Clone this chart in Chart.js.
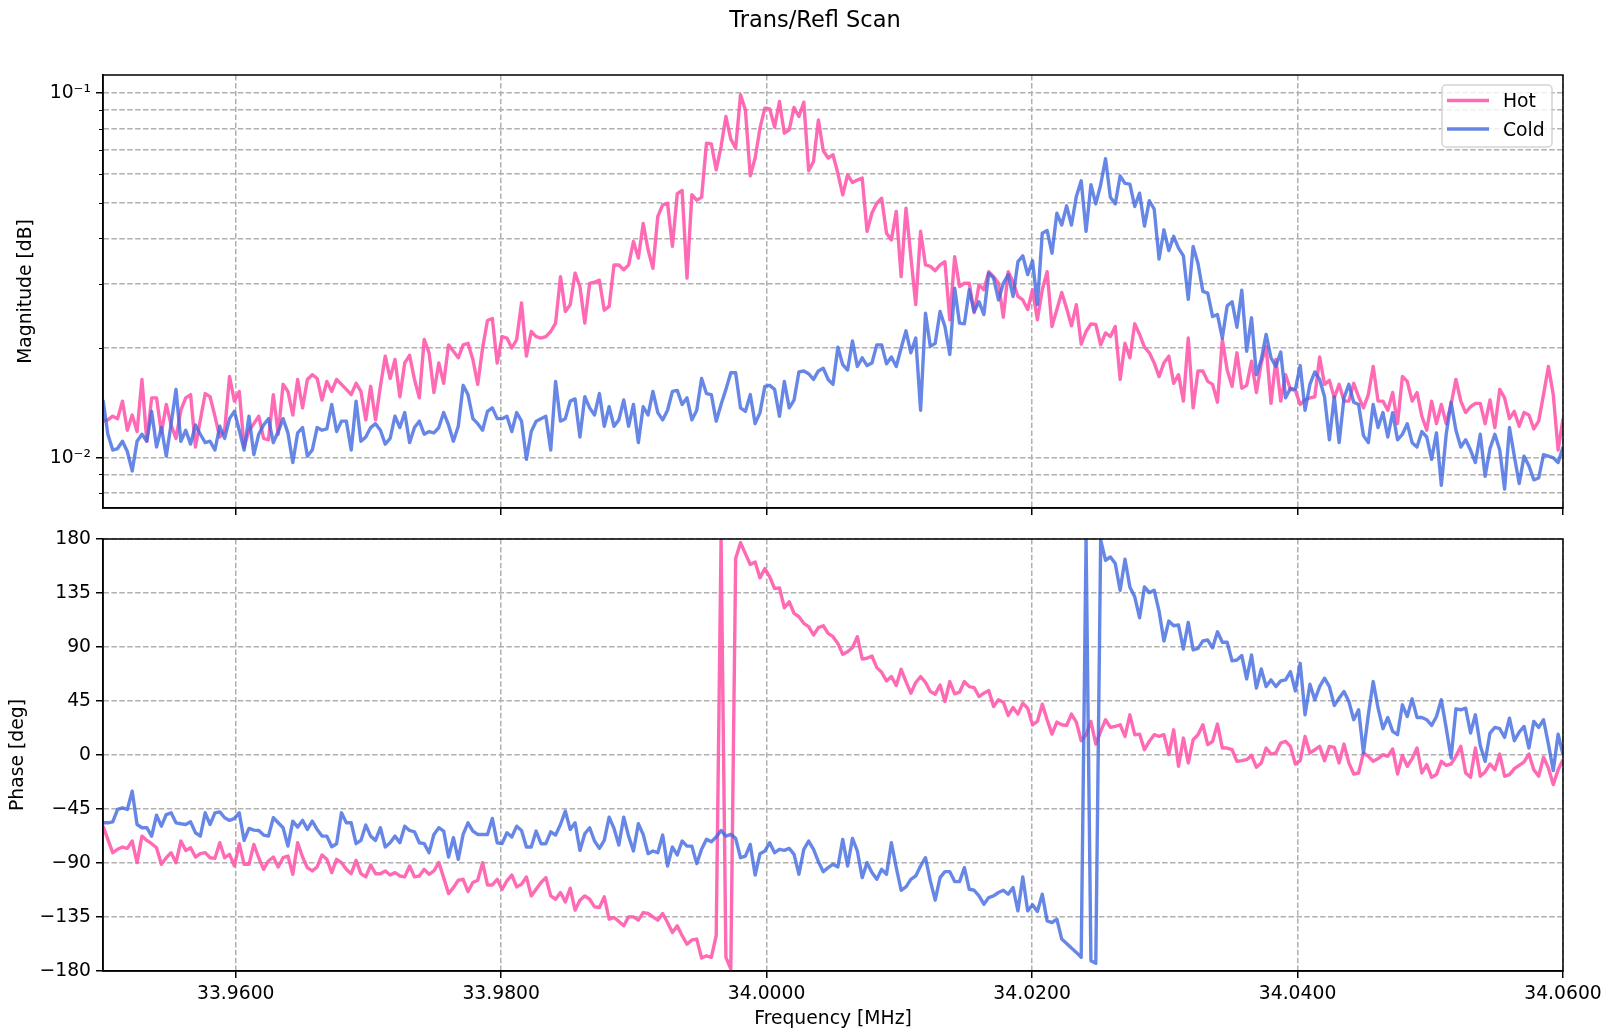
<!DOCTYPE html>
<html>
<head>
<meta charset="utf-8">
<title>Trans/Refl Scan</title>
<script src="https://cdn.jsdelivr.net/npm/chart.js@4.4.1/dist/chart.umd.min.js"></script>
<style>
  html, body { margin: 0; padding: 0; background: #fff; }
  #figure { position: relative; width: 1610px; height: 1032px; }
  #figure canvas { position: absolute; left: 0; }
</style>
</head>
<body>
<div id="figure">
  <canvas id="magChart" width="1610" height="530" style="top:0px"></canvas>
  <canvas id="phaseChart" width="1610" height="502" style="top:530px"></canvas>
</div>
<script>
// sweep range, MHz (points are evenly spaced across it)
const F_START = 33.95;
const F_STOP = 34.06;

const hotMag = [
  0.0126, 0.0127, 0.0130, 0.0128, 0.0143, 0.0119, 0.0131, 0.0118, 0.0164, 0.0111,
  0.0146, 0.0146, 0.0117, 0.0140, 0.0123, 0.0113, 0.0135, 0.0146, 0.0149, 0.0107,
  0.0127, 0.0150, 0.0147, 0.0130, 0.0114, 0.0119, 0.0167, 0.0143, 0.0152, 0.0107,
  0.0119, 0.0124, 0.0130, 0.0113, 0.0112, 0.0149, 0.0116, 0.0159, 0.0152, 0.0131,
  0.0164, 0.0137, 0.0164, 0.0169, 0.0165, 0.0144, 0.0162, 0.0152, 0.0164, 0.0159,
  0.0154, 0.0149, 0.0160, 0.0152, 0.0127, 0.0157, 0.0127, 0.0157, 0.0190, 0.0165,
  0.0186, 0.0147, 0.0182, 0.0191, 0.0164, 0.0146, 0.0211, 0.0194, 0.0151, 0.0182,
  0.0160, 0.0204, 0.0196, 0.0188, 0.0204,
  0.0206, 0.0186, 0.0159, 0.0200, 0.0238, 0.0241, 0.0182, 0.0215, 0.0213, 0.0200,
  0.0211, 0.0266, 0.0190, 0.0222, 0.0215, 0.0213, 0.0215, 0.0222, 0.0234, 0.0314,
  0.0252, 0.0263, 0.0321, 0.0295, 0.0234, 0.0301, 0.0303, 0.0307, 0.0254, 0.0260,
  0.0338, 0.0338, 0.0328, 0.0338, 0.0392, 0.0353, 0.0439, 0.0372, 0.0331, 0.0459,
  0.0494, 0.0499, 0.0380, 0.0530, 0.0541, 0.0311, 0.0527, 0.0509, 0.0518, 0.0729,
  0.0726, 0.0616, 0.0714, 0.0863, 0.0748, 0.0707, 0.0990, 0.0900, 0.0594, 0.0664,
  0.0802, 0.0910, 0.0906, 0.0807, 0.0949, 0.0777, 0.0793, 0.0914, 0.0863, 0.0945,
  0.0613, 0.0650, 0.0845, 0.0695, 0.0664,
  0.0678, 0.0603, 0.0526, 0.0597, 0.0569, 0.0578, 0.0585, 0.0418, 0.0469, 0.0499,
  0.0515, 0.0413, 0.0396, 0.0474, 0.0314, 0.0484, 0.0356, 0.0263, 0.0418, 0.0338,
  0.0335, 0.0326, 0.0338, 0.0345, 0.0239, 0.0356, 0.0295, 0.0301, 0.0301, 0.0250,
  0.0298, 0.0289, 0.0324, 0.0314, 0.0301, 0.0243, 0.0324, 0.0304, 0.0277, 0.0271,
  0.0255, 0.0289, 0.0239, 0.0289, 0.0324, 0.0229, 0.0255, 0.0284, 0.0257, 0.0230,
  0.0263, 0.0205, 0.0222, 0.0233, 0.0232, 0.0204, 0.0220, 0.0215, 0.0229, 0.0164,
  0.0206, 0.0188, 0.0233, 0.0218, 0.0201, 0.0194, 0.0182, 0.0167, 0.0182, 0.0190,
  0.0160, 0.0169, 0.0143, 0.0213, 0.0137,
  0.0173, 0.0173, 0.0162, 0.0159, 0.0142, 0.0211, 0.0174, 0.0157, 0.0194, 0.0155,
  0.0158, 0.0184, 0.0151, 0.0182, 0.0202, 0.0141, 0.0186, 0.0143, 0.0169, 0.0154,
  0.0153, 0.0140, 0.0144, 0.0146, 0.0147, 0.0189, 0.0159, 0.0163, 0.0146, 0.0159,
  0.0143, 0.0143, 0.0160, 0.0147, 0.0137, 0.0149, 0.0178, 0.0143, 0.0143, 0.0135,
  0.0151, 0.0124, 0.0167, 0.0162, 0.0143, 0.0151, 0.0130, 0.0119, 0.0143, 0.0124,
  0.0140, 0.0124, 0.0140, 0.0164, 0.0143, 0.0133, 0.0138, 0.0141, 0.0141, 0.0124,
  0.0144, 0.0121, 0.0154, 0.0146, 0.0128, 0.0134, 0.0122, 0.0133, 0.0131, 0.0120,
  0.0126, 0.0149, 0.0178, 0.0149, 0.0105, 0.0128
];

const coldMag = [
  0.0144, 0.0116, 0.0105, 0.0106, 0.0111, 0.0104, 0.0092, 0.0111, 0.0116, 0.0111,
  0.0134, 0.0107, 0.0121, 0.0101, 0.0124, 0.0154, 0.0111, 0.0119, 0.0109, 0.0123,
  0.0116, 0.0110, 0.0111, 0.0105, 0.0122, 0.0113, 0.0128, 0.0134, 0.0119, 0.0105,
  0.0130, 0.0102, 0.0116, 0.0123, 0.0128, 0.0110, 0.0118, 0.0128, 0.0117, 0.0097,
  0.0117, 0.0121, 0.0101, 0.0105, 0.0121, 0.0119, 0.0120, 0.0140, 0.0118, 0.0126,
  0.0126, 0.0105, 0.0143, 0.0111, 0.0114, 0.0121, 0.0124, 0.0119, 0.0109, 0.0113,
  0.0130, 0.0121, 0.0133, 0.0110, 0.0121, 0.0126, 0.0116, 0.0118, 0.0117, 0.0121,
  0.0133, 0.0123, 0.0111, 0.0122, 0.0158,
  0.0149, 0.0128, 0.0124, 0.0119, 0.0134, 0.0137, 0.0128, 0.0128, 0.0130, 0.0118,
  0.0133, 0.0126, 0.0099, 0.0118, 0.0126, 0.0128, 0.0130, 0.0105, 0.0162, 0.0126,
  0.0128, 0.0143, 0.0145, 0.0114, 0.0147, 0.0137, 0.0131, 0.0150, 0.0122, 0.0138,
  0.0122, 0.0127, 0.0144, 0.0122, 0.0140, 0.0110, 0.0138, 0.0131, 0.0152, 0.0133,
  0.0127, 0.0135, 0.0152, 0.0153, 0.0140, 0.0146, 0.0127, 0.0135, 0.0165, 0.0150,
  0.0149, 0.0126, 0.0140, 0.0154, 0.0171, 0.0171, 0.0137, 0.0134, 0.0149, 0.0124,
  0.0133, 0.0157, 0.0158, 0.0154, 0.0130, 0.0162, 0.0137, 0.0144, 0.0172, 0.0173,
  0.0170, 0.0164, 0.0173, 0.0176, 0.0164,
  0.0159, 0.0201, 0.0180, 0.0174, 0.0209, 0.0178, 0.0188, 0.0179, 0.0182, 0.0204,
  0.0204, 0.0181, 0.0189, 0.0178, 0.0200, 0.0223, 0.0194, 0.0213, 0.0135, 0.0249,
  0.0202, 0.0206, 0.0252, 0.0229, 0.0192, 0.0292, 0.0234, 0.0233, 0.0289, 0.0252,
  0.0268, 0.0247, 0.0321, 0.0311, 0.0271, 0.0301, 0.0318, 0.0277, 0.0345, 0.0358,
  0.0318, 0.0347, 0.0263, 0.0413, 0.0420, 0.0364, 0.0469, 0.0435, 0.0491, 0.0435,
  0.0521, 0.0575, 0.0418, 0.0561, 0.0497, 0.0561, 0.0661, 0.0518, 0.0497, 0.0593,
  0.0566, 0.0563, 0.0489, 0.0532, 0.0432, 0.0507, 0.0481, 0.0351, 0.0422, 0.0370,
  0.0405, 0.0376, 0.0358, 0.0272, 0.0380,
  0.0341, 0.0286, 0.0283, 0.0244, 0.0247, 0.0213, 0.0261, 0.0268, 0.0228, 0.0288,
  0.0196, 0.0242, 0.0169, 0.0186, 0.0218, 0.0188, 0.0178, 0.0195, 0.0146, 0.0155,
  0.0154, 0.0179, 0.0135, 0.0159, 0.0172, 0.0164, 0.0147, 0.0112, 0.0147, 0.0110,
  0.0146, 0.0159, 0.0142, 0.0140, 0.0115, 0.0110, 0.0140, 0.0121, 0.0133, 0.0114,
  0.0133, 0.0112, 0.0116, 0.0124, 0.0110, 0.0107, 0.0118, 0.0114, 0.0099, 0.0117,
  0.0084, 0.0116, 0.0142, 0.0119, 0.0107, 0.0112, 0.0105, 0.0097, 0.0116, 0.0089,
  0.0106, 0.0116, 0.0105, 0.0082, 0.0121, 0.0101, 0.0085, 0.0101, 0.0095, 0.0087,
  0.0088, 0.0102, 0.0101, 0.0100, 0.0097, 0.0107
];

const hotPhase = [
  -59.3, -70.3, -81.4, -78.6, -76.7, -77.8, -71.7, -89.7, -67.6, -71.2,
  -73.9, -77.3, -91.1, -85.6, -81.4, -89.7, -71.7, -79.5, -77.3, -85.0,
  -82.2, -81.4, -85.6, -86.1, -73.1, -85.6, -82.8, -92.5, -73.9, -91.1,
  -91.1, -74.5, -85.6, -95.3, -88.3, -85.0, -93.3, -85.6, -84.2, -99.4,
  -73.1, -85.0, -93.9, -96.6, -93.3, -83.3, -86.9, -98.0, -86.9, -89.7,
  -95.3, -98.9, -87.8, -98.9, -101.6, -91.7, -98.9, -98.9, -96.6, -100.0,
  -98.0, -100.8, -101.6, -92.5, -101.6, -100.8, -95.3, -99.4, -96.6, -89.7,
  -102.2, -115.5, -110.5, -104.4, -103.6,
  -113.8, -106.3, -104.4, -89.7, -108.3, -108.3, -103.6, -111.9, -104.9, -100.0,
  -109.9, -107.7, -101.6, -117.4, -111.9, -106.3, -102.2, -117.4, -120.2, -114.6,
  -122.4, -111.0, -129.3, -121.0, -117.4, -120.2, -126.5, -127.1, -118.2, -136.8,
  -135.4, -138.7, -142.3, -134.9, -134.9, -137.6, -131.3, -132.1, -134.9, -137.6,
  -132.1, -139.6, -147.9, -142.3, -150.6, -157.6, -154.2, -153.4, -169.2, -167.3,
  -168.6, -150.6, 179.0, -168.6, -178.3, 163.7, 176.9, 167.8, 158.7, 160.9,
  147.6, 155.3, 148.4, 138.7, 139.3, 122.7, 127.7, 118.0, 115.2, 109.7,
  106.9, 100.0, 106.1, 107.7, 101.3,
  98.6, 93.0, 83.9, 86.1, 89.4, 98.6, 80.0, 80.6, 82.5, 72.8,
  68.9, 61.7, 65.3, 57.9, 71.4, 61.2, 51.5, 60.4, 65.3, 60.6,
  52.9, 50.7, 58.4, 44.6, 61.2, 51.0, 52.3, 61.2, 57.0, 56.2,
  48.7, 51.5, 53.7, 40.4, 46.0, 44.0, 33.0, 39.6, 34.1, 43.2,
  39.0, 25.2, 28.0, 42.4, 29.4, 17.4, 27.4, 25.2, 24.6, 34.1,
  27.4, 11.9, 16.9, 28.0, 9.1, 19.7, 29.4, 23.0, 23.8, 25.2,
  15.5, 33.5, 16.9, 17.4, 4.4, 11.4, 16.9, 15.5, 16.9, 0.3,
  21.0, -9.4, 14.1, -6.6, 12.7,
  16.9, 25.2, 8.6, 11.4, 25.8, 5.8, 5.8, 4.4, -5.3, -4.7,
  -3.9, -0.3, -10.2, -6.6, 5.8, 0.8, 1.7, 10.0, 11.4, 7.2,
  -7.5, -4.7, 15.5, 1.7, 4.4, 7.2, -4.7, 7.2, 6.4, -6.6,
  9.1, -6.6, -15.8, -15.0, 1.7, -1.1, -5.3, -3.0, 0.3, -1.1,
  5.0, -15.8, -0.3, -9.4, -3.0, 5.8, -15.0, -8.0, -18.6, -16.3,
  -5.3, -8.6, -7.5, -1.1, 7.2, -15.0, -18.6, 5.8, -17.7, -14.1,
  -7.5, -12.2, 0.8, -17.7, -16.3, -11.4, -8.6, -5.8, 0.8, -12.2,
  -17.7, -1.9, -10.8, -24.6, -12.2, -3.9
];

const coldPhase = [
  -56.5, -56.5, -55.7, -45.4, -44.0, -45.4, -30.2, -57.9, -60.6, -60.6,
  -67.6, -50.1, -59.3, -49.6, -48.2, -56.5, -57.3, -57.9, -55.7, -64.8,
  -67.6, -48.2, -57.9, -48.2, -47.4, -52.3, -54.5, -52.9, -48.2, -71.2,
  -61.2, -62.6, -62.9, -66.7, -67.6, -52.3, -56.5, -60.6, -75.9, -55.1,
  -60.1, -54.5, -62.0, -55.1, -62.0, -67.6, -67.6, -76.4, -73.9, -48.2,
  -56.5, -56.5, -73.9, -71.2, -58.4, -67.6, -71.2, -60.6, -76.7, -73.1,
  -67.6, -73.1, -59.3, -62.9, -64.0, -73.1, -73.9, -81.4, -66.2, -60.6,
  -63.4, -85.0, -68.9, -86.9, -66.2,
  -56.5, -63.4, -66.2, -66.2, -66.2, -52.9, -73.1, -73.9, -64.8, -68.4,
  -59.3, -62.9, -76.7, -76.7, -63.4, -73.9, -73.9, -64.0, -66.7, -57.9,
  -46.8, -62.0, -56.5, -79.5, -65.6, -60.6, -71.7, -77.8, -71.2, -51.8,
  -61.2, -75.0, -51.8, -67.6, -80.0, -57.3, -66.2, -82.2, -80.0, -81.4,
  -66.7, -92.5, -76.7, -83.3, -71.7, -75.9, -75.9, -90.5, -78.6, -70.3,
  -72.3, -68.4, -62.9, -67.6, -66.2, -69.5, -85.6, -84.2, -74.5, -100.0,
  -82.2, -80.0, -73.1, -81.4, -78.6, -79.5, -77.8, -82.8, -99.4, -78.6,
  -71.7, -78.6, -88.9, -97.2, -93.9,
  -91.1, -93.3, -70.3, -92.5, -69.5, -80.0, -102.2, -89.7, -98.0, -103.6,
  -95.3, -99.4, -73.1, -93.9, -112.7, -109.9, -103.6, -100.8, -92.5, -85.6,
  -104.9, -121.0, -102.2, -97.2, -97.2, -105.5, -105.5, -93.9, -111.9, -112.7,
  -117.4, -124.3, -118.8, -117.4, -114.6, -112.7, -116.0, -110.5, -129.9, -101.6,
  -129.9, -124.9, -130.4, -116.0, -138.2, -139.6, -136.8, -153.4, -157.0, -160.9,
  -164.5, -168.6, 179.0, -171.4, -173.6, 179.0, 162.3, 165.0, 159.5, 137.3,
  163.1, 140.1, 131.8, 114.4, 140.1, 135.4, 137.3, 119.9, 95.0, 111.6,
  107.7, 108.3, 88.3, 110.5, 87.5,
  88.9, 95.0, 95.8, 89.4, 102.7, 93.9, 93.9, 78.4, 79.2, 82.8,
  63.4, 83.3, 55.7, 71.7, 57.0, 62.6, 57.0, 61.7, 62.6, 69.5,
  53.4, 76.4, 33.5, 59.0, 46.0, 57.0, 64.0, 57.0, 41.3, 47.4,
  52.9, 44.6, 29.4, 37.7, 1.7, 33.5, 61.2, 39.0, 21.9, 31.3,
  19.7, 16.9, 41.8, 32.1, 46.8, 31.3, 31.3, 29.4, 24.6, 32.1,
  46.0, 22.4, -2.5, 38.5, 37.7, 39.0, 18.3, 33.5, 8.0, -5.3,
  18.3, 23.0, 21.9, 14.7, 30.7, 11.9, 19.1, 23.8, 5.8, 28.0,
  23.0, 29.4, 9.1, -13.0, 17.4, 0.3
];

// axis ticks
const freqTicks = [33.96, 33.98, 34.00, 34.02, 34.04, 34.06];
const magTicks = [0.008, 0.009, 0.01, 0.02, 0.03, 0.04, 0.05, 0.06, 0.07, 0.08, 0.09, 0.1];
const magMajor = [0.01, 0.1];
const magLabels = ['10\u207B\u00B2', '10\u207B\u00B9'];
const phaseTicks = [-180, -135, -90, -45, 0, 45, 90, 135, 180];

const MAG_MIN = 0.00728;
const MAG_MAX = 0.1122;

const GRID_COLOR = '#b0b0b0';
const GRID_DASH = [5.5, 2.4];
const HOT_COLOR = 'rgba(255, 90, 172, 0.9)';
const COLD_COLOR = 'rgba(65, 105, 225, 0.8)';
const LINE_W = 3.4;
const FONT = '"DejaVu Sans", sans-serif';

Chart.defaults.font.family = FONT;
Chart.defaults.font.size = 18.75;
Chart.defaults.color = '#000';

const freqs = [];
for (let i = 0; i < hotMag.length; i++) {
  freqs.push(F_START + (F_STOP - F_START) * i / (hotMag.length - 1));
}
const toPoints = (ys) => ys.map((y, i) => ({ x: freqs[i], y: y }));

function series(label, values, color, order) {
  return {
    label: label,
    data: toPoints(values),
    borderColor: color,
    backgroundColor: color,
    borderWidth: LINE_W,
    borderJoinStyle: 'round',
    pointRadius: 0,
    tension: 0,
    fill: false,
    order: order
  };
}

function freqAxis(withLabels) {
  return {
    type: 'linear',
    min: F_START,
    max: F_STOP,
    bounds: 'data',
    afterBuildTicks: (s) => { s.ticks = freqTicks.map((v) => ({ value: v })); },
    afterFit: (s) => {
      s.height = withLabels ? 61 : 22;
      s.paddingLeft = 0;
      s.paddingRight = 0;
    },
    grid: { color: GRID_COLOR, lineWidth: 1.5, tickColor: '#000', tickWidth: 1.5, tickLength: 7 },
    border: { color: '#000', width: 1.5, dash: GRID_DASH },
    ticks: {
      display: withLabels,
      autoSkip: false,
      maxRotation: 0,
      padding: 4.5,
      callback: (v) => Number(v).toFixed(4)
    },
    title: {
      display: withLabels,
      text: 'Frequency [MHz]',
      padding: { top: 0, bottom: 1.25 }
    }
  };
}

// box round the plot area, plus short minor ticks on the log axis
const frame = {
  id: 'frame',
  afterDatasetsDraw(chart) {
    const ctx = chart.ctx;
    const a = chart.chartArea;
    ctx.save();
    ctx.strokeStyle = '#000';
    ctx.lineWidth = 1.5;
    ctx.strokeRect(a.left, a.top, a.right - a.left, a.bottom - a.top);
    const y = chart.scales.y;
    if (y.type === 'logarithmic') {
      ctx.lineWidth = 1.2;
      ctx.beginPath();
      magTicks.filter((v) => !magMajor.includes(v)).forEach((v) => {
        const py = Math.round(y.getPixelForValue(v)) + 0.5;
        ctx.moveTo(a.left - 4, py);
        ctx.lineTo(a.left, py);
      });
      ctx.stroke();
    }
    ctx.restore();
  }
};

const legendBox = {
  id: 'legendBox',
  afterDraw(chart) {
    const ctx = chart.ctx;
    const x = 1442, y = 85, w = 110, h = 62;
    ctx.save();
    ctx.beginPath();
    if (ctx.roundRect) ctx.roundRect(x, y, w, h, 4); else ctx.rect(x, y, w, h);
    ctx.fillStyle = 'rgba(255, 255, 255, 0.8)';
    ctx.fill();
    ctx.strokeStyle = '#d4d4d4';
    ctx.lineWidth = 1.5;
    ctx.stroke();
    ctx.font = '18.75px ' + FONT;
    ctx.textBaseline = 'middle';
    chart.data.datasets.forEach((ds, i) => {
      const ly = 100.5 + i * 28.5;
      ctx.strokeStyle = ds.borderColor;
      ctx.lineWidth = LINE_W;
      ctx.beginPath();
      ctx.moveTo(x + 5, ly);
      ctx.lineTo(x + 47, ly);
      ctx.stroke();
      ctx.fillStyle = '#000';
      ctx.fillText(ds.label, x + 61, ly + 2);
    });
    ctx.restore();
  }
};

const suptitle = {
  id: 'suptitle',
  afterDraw(chart) {
    const ctx = chart.ctx;
    ctx.save();
    ctx.font = '22.5px ' + FONT;
    ctx.fillStyle = '#000';
    ctx.textAlign = 'center';
    ctx.textBaseline = 'alphabetic';
    ctx.fillText('Trans/Refl Scan', 815, 27);
    ctx.restore();
  }
};

new Chart(document.getElementById('magChart'), {
  type: 'line',
  data: {
    datasets: [
      series('Hot', hotMag, HOT_COLOR, 1),
      series('Cold', coldMag, COLD_COLOR, 0)
    ]
  },
  options: {
    responsive: false,
    animation: false,
    events: [],
    layout: { padding: { top: 75, right: 47, bottom: 0, left: 0 } },
    plugins: { legend: { display: false }, tooltip: { enabled: false } },
    scales: {
      x: freqAxis(false),
      y: {
        type: 'logarithmic',
        min: MAG_MIN,
        max: MAG_MAX,
        bounds: 'data',
        afterBuildTicks: (s) => { s.ticks = magTicks.map((v) => ({ value: v })); },
        afterFit: (s) => { s.width = 103; s.paddingTop = 0; s.paddingBottom = 0; },
        grid: {
          color: GRID_COLOR,
          lineWidth: 1.5,
          tickLength: 7,
          tickWidth: 1.5,
          tickColor: (c) => (c.tick && magMajor.includes(c.tick.value)) ? '#000' : 'rgba(0,0,0,0)'
        },
        border: { color: '#000', width: 1.5, dash: GRID_DASH },
        ticks: {
          autoSkip: false,
          padding: 5,
          callback: (v) => {
            const k = magMajor.indexOf(v);
            return k >= 0 ? magLabels[k] : '';
          }
        },
        title: { display: true, text: 'Magnitude [dB]', padding: { top: 14.5, bottom: 0 } }
      }
    }
  },
  plugins: [frame, legendBox, suptitle]
});

new Chart(document.getElementById('phaseChart'), {
  type: 'line',
  data: {
    datasets: [
      series('Hot', hotPhase, HOT_COLOR, 1),
      series('Cold', coldPhase, COLD_COLOR, 0)
    ]
  },
  options: {
    responsive: false,
    animation: false,
    events: [],
    layout: { padding: { top: 9, right: 47, bottom: 0, left: 0 } },
    plugins: { legend: { display: false }, tooltip: { enabled: false } },
    scales: {
      x: freqAxis(true),
      y: {
        type: 'linear',
        min: -180,
        max: 180,
        bounds: 'data',
        afterBuildTicks: (s) => { s.ticks = phaseTicks.map((v) => ({ value: v })); },
        afterFit: (s) => { s.width = 103; s.paddingTop = 0; s.paddingBottom = 0; },
        grid: { color: GRID_COLOR, lineWidth: 1.5, tickLength: 7, tickWidth: 1.5, tickColor: '#000' },
        border: { color: '#000', width: 1.5, dash: GRID_DASH },
        ticks: {
          autoSkip: false,
          padding: 5,
          callback: (v) => v < 0 ? '\u2212' + (-v) : String(v)
        },
        title: { display: true, text: 'Phase [deg]', padding: { top: 7.25, bottom: 0 } }
      }
    }
  },
  plugins: [frame]
});
</script>
</body>
</html>
